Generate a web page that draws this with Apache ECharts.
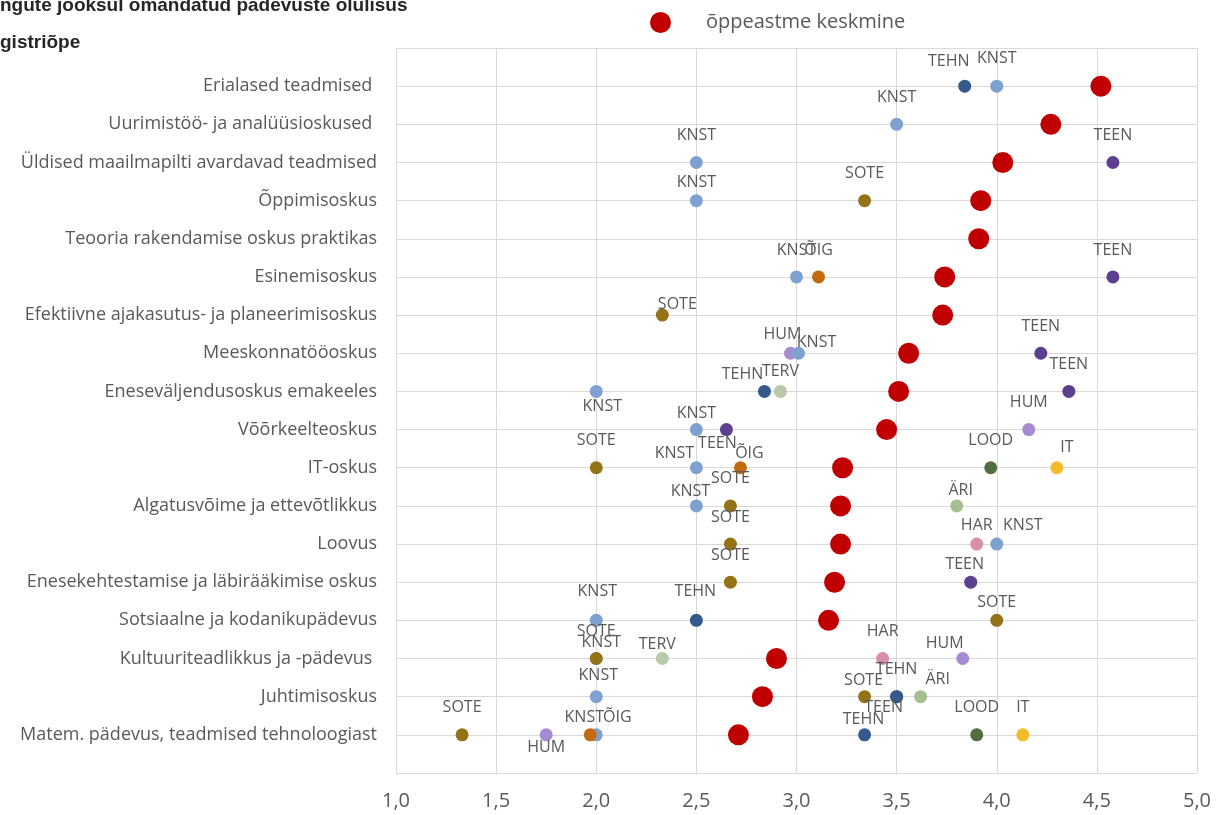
<!DOCTYPE html>
<html>
<head>
<meta charset="utf-8">
<script src="https://cdn.jsdelivr.net/npm/echarts@6/dist/echarts.min.js"></script>
<style>
  html, body { margin: 0; padding: 0; background: #fff; }
  #chart { width: 1227px; height: 815px; }
</style>
</head>
<body>
<div id="chart"></div>
<script>
// competences, top to bottom (row 1 = top)
const categories = [
  "Erialased teadmised ",
  "Uurimistöö- ja analüüsioskused ",
  "Üldised maailmapilti avardavad teadmised",
  "Õppimisoskus",
  "Teooria rakendamise oskus praktikas",
  "Esinemisoskus",
  "Efektiivne ajakasutus- ja planeerimisoskus",
  "Meeskonnatööoskus",
  "Eneseväljendusoskus emakeeles",
  "Võõrkeelteoskus",
  "IT-oskus",
  "Algatusvõime ja ettevõtlikkus",
  "Loovus",
  "Enesekehtestamise ja läbirääkimise oskus",
  "Sotsiaalne ja kodanikupädevus",
  "Kultuuriteadlikkus ja -pädevus ",
  "Juhtimisoskus",
  "Matem. pädevus, teadmised tehnoloogiast"
];

// õppeastme keskmine, same order as categories
const averages = [4.52, 4.27, 4.03, 3.92, 3.91, 3.74, 3.73, 3.56, 3.51, 3.45,
                  3.23, 3.22, 3.22, 3.19, 3.16, 2.90, 2.83, 2.71];

// per group: [row, value]
const hum  = [[8, 2.97], [10, 4.16], [16, 3.83], [18, 1.75]];
const knst = [[1, 4.0], [2, 3.5], [3, 2.5], [4, 2.5], [6, 3.0], [8, 3.01], [9, 2.0],
              [10, 2.5], [11, 2.5], [12, 2.5], [13, 4.0], [15, 2.0], [16, 2.0], [17, 2.0], [18, 2.0]];
const teen = [[3, 4.58], [6, 4.58], [8, 4.22], [9, 4.36], [10, 2.65], [14, 3.87], [17, 3.5]];
const tehn = [[1, 3.84], [9, 2.84], [15, 2.5], [17, 3.5], [18, 3.34]];
const sote = [[4, 3.34], [7, 2.33], [11, 2.0], [12, 2.67], [13, 2.67], [14, 2.67],
              [15, 4.0], [16, 2.0], [17, 3.34], [18, 1.33]];
const oig  = [[6, 3.11], [11, 2.72], [18, 1.97]];
const terv = [[9, 2.92], [16, 2.33]];
const lood = [[11, 3.97], [18, 3.9]];
const it   = [[11, 4.3], [18, 4.13]];
const ari  = [[12, 3.8], [17, 3.62]];
const har  = [[13, 3.9], [16, 3.43]];

const xTicks = [1.0, 1.5, 2.0, 2.5, 3.0, 3.5, 4.0, 4.5, 5.0];

const groups = [
  { name: "HUM", data: hum, color: "#a68bd2" },
  { name: "KNST", data: knst, color: "#7ea1d0" },
  { name: "TEEN", data: teen, color: "#5c3f8f" },
  { name: "TEHN", data: tehn, color: "#35598b" },
  { name: "SOTE", data: sote, color: "#937316" },
  { name: "ÕIG", data: oig, color: "#c26a10" },
  { name: "TERV", data: terv, color: "#b7c9a8" },
  { name: "LOOD", data: lood, color: "#4f6d3d" },
  { name: "IT", data: it, color: "#f1bb2b" },
  { name: "ÄRI", data: ari, color: "#a5bf90" },
  { name: "HAR", data: har, color: "#d98ea9" }
];

// label placement (px offset from dot centre), default is above
const defaultOffset = [0, -27];
const labelOffsets = {
  "TEHN:1": [-16, -25], "KNST:1": [0, -28], "KNST:4": [0, -18],
  "SOTE:7": [15, -11], "HUM:8": [-8, -19], "KNST:8": [18, -11],
  "TEHN:9": [-22, -17], "TERV:9": [0, -20], "KNST:9": [6, 15],
  "KNST:10": [0, -16], "TEEN:10": [-9, 14],
  "KNST:11": [-22, -14], "ÕIG:11": [9, -14], "IT:11": [10, -20],
  "KNST:12": [-6, -14], "ÄRI:12": [4, -15],
  "HAR:13": [0, -19], "KNST:13": [26, -19],
  "TEEN:14": [-6, -18], "SOTE:15": [0, -18], "KNST:15": [1, -29], "TEHN:15": [-1, -29],
  "KNST:16": [5, -16], "TERV:16": [-5, -14], "HUM:16": [-18, -15],
  "KNST:17": [2, -21], "SOTE:17": [-1, -16], "ÄRI:17": [17, -17], "TEEN:17": [-13, 11],
  "HUM:18": [0, 13], "KNST:18": [-12, -17], "ÕIG:18": [27, -17], "TEHN:18": [-1, -15]
};

const chart = echarts.init(document.getElementById("chart"));

const series = groups.map(g => ({
  name: g.name,
  type: "scatter",
  symbolSize: 13,
  itemStyle: { color: g.color, opacity: 1 },
  label: {
    show: true,
    position: "inside",
    formatter: g.name,
    color: "#595959",
    fontFamily: "Open Sans",
    fontSize: 16
  },
  data: g.data.map(([row, v]) => ({
    value: [v, row],
    label: { offset: labelOffsets[g.name + ":" + row] || defaultOffset }
  }))
}));

series.push({
  name: "õppeastme keskmine",
  type: "scatter",
  symbolSize: 21,
  itemStyle: { color: "#c00000", opacity: 1 },
  data: averages.map((v, i) => [v, i + 1])
});

chart.setOption({
  animation: false,
  textStyle: { fontFamily: "Open Sans" },
  grid: { left: 396, right: 30, top: 48, bottom: 42 },
  legend: {
    data: ["õppeastme keskmine"],
    left: 645,
    top: 7,
    icon: "circle",
    itemWidth: 21,
    itemHeight: 21,
    itemStyle: { opacity: 1 },
    textStyle: { color: "#595959", fontSize: 20, padding: [0, 0, 0, 30] }
  },
  graphic: [
    { type: "text", left: 0, top: -4,
      style: { text: "ngute jooksul omandatud pädevuste olulisus", fill: "#262626",
               font: "bold 19px 'Liberation Sans Narrow', sans-serif" } },
    { type: "text", left: 0, top: 33,
      style: { text: "gistriõpe", fill: "#262626",
               font: "bold 19px 'Liberation Sans Narrow', sans-serif" } }
  ],
  xAxis: {
    type: "value",
    min: xTicks[0],
    max: xTicks[xTicks.length - 1],
    interval: 0.5,
    axisLine: { show: false },
    axisTick: { show: false },
    splitLine: { lineStyle: { color: "#d9d9d9" } },
    axisLabel: {
      margin: 18,
      color: "#595959",
      fontSize: 20,
      formatter: v => v.toFixed(1).replace(".", ",")
    }
  },
  yAxis: {
    type: "value",
    min: 0,
    max: categories.length + 1,
    interval: 1,
    inverse: true,
    axisLine: { show: false },
    axisTick: { show: false },
    splitLine: { lineStyle: { color: "#d9d9d9" } },
    axisLabel: {
      margin: 19,
      color: "#595959",
      fontSize: 18,
      formatter: v => categories[v - 1] || ""
    }
  },
  series: series
});
</script>
</body>
</html>
